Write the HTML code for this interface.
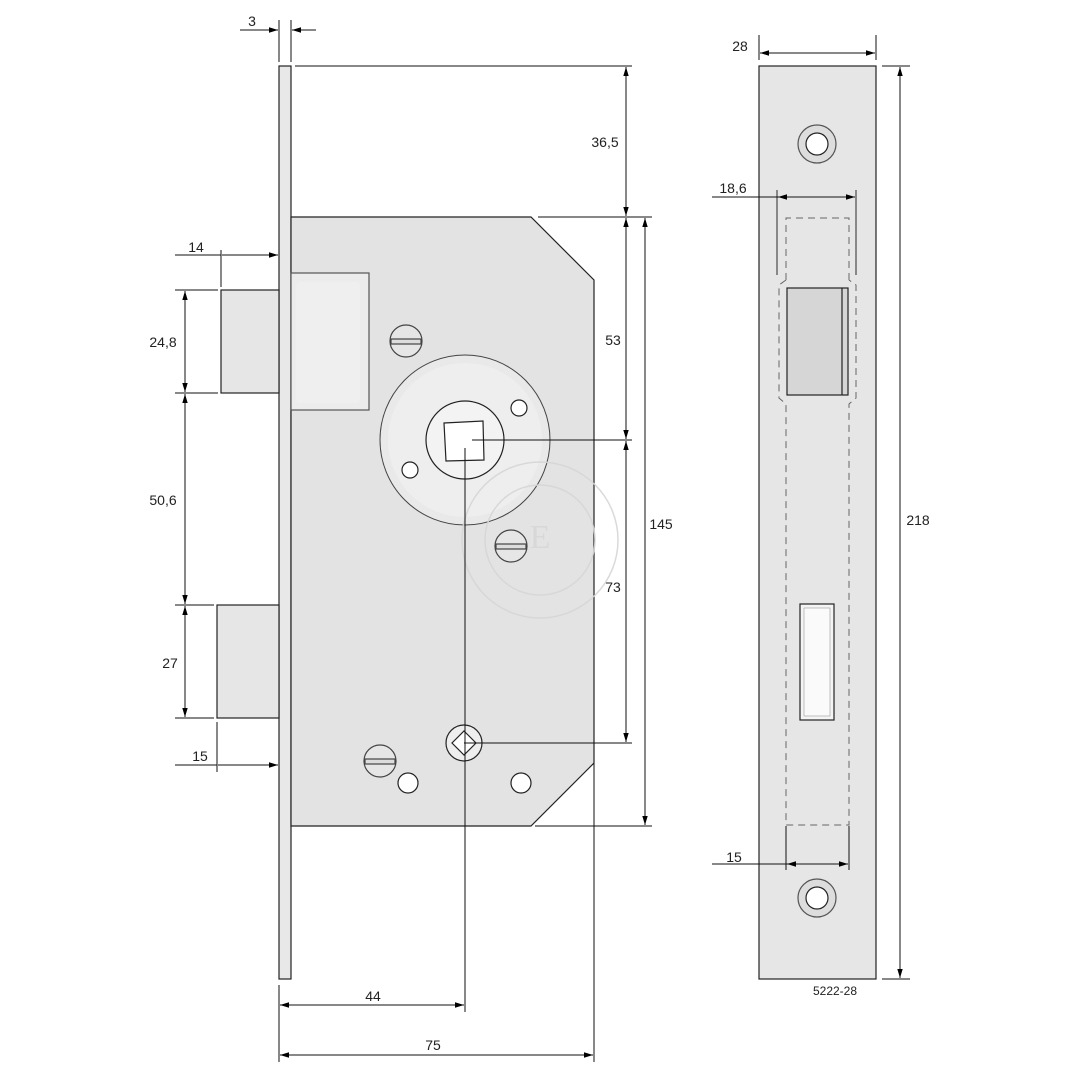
<!DOCTYPE html>
<html><head><style>body{margin:0;background:#fff}svg{display:block}text{font-family:"Liberation Sans",sans-serif;font-size:14px;fill:#222}</style></head><body>
<svg width="1080" height="1080" viewBox="0 0 1080 1080" xmlns="http://www.w3.org/2000/svg">
<defs>
<marker id="a" viewBox="0 0 10 10" refX="10" refY="5" markerWidth="9" markerHeight="9" orient="auto-start-reverse"><path d="M0,2 L10,5 L0,8 z" fill="#000"/></marker>
</defs>
<g stroke="#222" stroke-width="1.2">
<rect x="279" y="66" width="12" height="913" fill="#e8e8e8"/>
<polygon points="291,217 531,217 594,280 594,763 531,826 291,826" fill="#e3e3e3"/>
<rect x="291" y="273" width="78" height="137" fill="#ececec" stroke="#555"/>
<rect x="296" y="282" width="64" height="121" fill="#efefef" stroke="none" rx="4"/>
<rect x="221" y="290" width="58" height="103" fill="#e6e6e6"/>
<rect x="217" y="605" width="62" height="113" fill="#e6e6e6"/>
<circle cx="465" cy="440" r="85" fill="#e9e9e9" stroke="#444" stroke-width="1"/>
<circle cx="465" cy="440" r="77" fill="#eeeeee" stroke="none"/>
<circle cx="465" cy="440" r="39" fill="#f3f3f3"/>
<polygon points="444,423 483,421 484,460 446,461" fill="#fff"/>
<circle cx="519" cy="408" r="8" fill="#fff"/>
<circle cx="410" cy="470" r="8" fill="#fff"/>
<g fill="#e6e6e6" stroke="#444">
<circle cx="406" cy="341" r="16"/><rect x="391" y="339" width="30" height="5" fill="#ddd"/>
<circle cx="511" cy="546" r="16"/><rect x="496" y="544" width="30" height="5" fill="#ddd"/>
<circle cx="380" cy="761" r="16"/><rect x="365" y="759" width="30" height="5" fill="#ddd"/>
</g>
<circle cx="408" cy="783" r="10" fill="#fff"/>
<circle cx="521" cy="783" r="10" fill="#fff"/>
<circle cx="464" cy="743" r="18" fill="#eee"/>
<polygon points="464,731 476,743 464,755 452,743" fill="#fff"/>
</g>
<g fill="none" stroke="#d6d6d6" stroke-width="1.5" opacity="0.9">
<circle cx="540" cy="540" r="78"/><circle cx="540" cy="540" r="55"/>
</g>
<text x="540" y="548" text-anchor="middle" style="fill:#d8d8d8;font-family:'Liberation Serif',serif;font-size:34px">E</text>
<!-- right faceplate -->
<g stroke="#222" stroke-width="1.2">
<rect x="759" y="66" width="117" height="913" fill="#e6e6e6"/>
<circle cx="817" cy="144" r="19" fill="#ddd" stroke="#555"/><circle cx="817" cy="144" r="11" fill="#fff"/>
<circle cx="817" cy="898" r="19" fill="#ddd" stroke="#555"/><circle cx="817" cy="898" r="11" fill="#fff"/>
<rect x="787" y="288" width="61" height="107" fill="#d6d6d6"/>
<line x1="842" y1="288" x2="842" y2="395"/>
<rect x="800" y="604" width="34" height="116" fill="#f4f4f4"/>
<rect x="804" y="608" width="26" height="108" fill="#fafafa" stroke="#999" stroke-width="0.6"/>
</g>
<g stroke="#555" stroke-width="1.3" fill="none">
<line x1="777" y1="190" x2="777" y2="275"/>
<line x1="856" y1="190" x2="856" y2="275"/>
</g>
<path d="M786,280 V218 H849 V280 M786,280 L779,285 V398 L786,404 V825 H849 V404 L856,398 V285 L849,280" fill="none" stroke="#666" stroke-width="1" stroke-dasharray="7,5"/>
<g stroke="#111" stroke-width="1" fill="none">
<line x1="472" y1="440" x2="632" y2="440"/>
<line x1="465" y1="448" x2="465" y2="1012"/>
<line x1="464" y1="743" x2="632" y2="743"/>
<line x1="594" y1="763" x2="594" y2="1062"/>
<line x1="279" y1="985" x2="279" y2="1062"/>
<line x1="295" y1="66" x2="632" y2="66"/>
<line x1="538" y1="217" x2="652" y2="217"/>
<line x1="535" y1="826" x2="652" y2="826"/>
<line x1="279" y1="20" x2="279" y2="62"/>
<line x1="291" y1="20" x2="291" y2="62"/>
<line x1="175" y1="290" x2="218" y2="290"/>
<line x1="175" y1="393" x2="218" y2="393"/>
<line x1="175" y1="605" x2="214" y2="605"/>
<line x1="175" y1="718" x2="214" y2="718"/>
<line x1="221" y1="250" x2="221" y2="287"/>
<line x1="217" y1="722" x2="217" y2="772"/>
<line x1="786" y1="826" x2="786" y2="870"/>
<line x1="849" y1="826" x2="849" y2="870"/>
<line x1="759" y1="35" x2="759" y2="60"/>
<line x1="876" y1="35" x2="876" y2="60"/>
<line x1="882" y1="66" x2="910" y2="66"/>
<line x1="882" y1="979" x2="910" y2="979"/>
<g marker-end="url(#a)" marker-start="url(#a)">
<line x1="626" y1="67" x2="626" y2="216"/>
<line x1="626" y1="218" x2="626" y2="439"/>
<line x1="626" y1="441" x2="626" y2="742"/>
<line x1="645" y1="218" x2="645" y2="825"/>
<line x1="185" y1="291" x2="185" y2="392"/>
<line x1="185" y1="394" x2="185" y2="604"/>
<line x1="185" y1="606" x2="185" y2="717"/>
<line x1="280" y1="1005" x2="464" y2="1005"/>
<line x1="280" y1="1055" x2="593" y2="1055"/>
<line x1="760" y1="53" x2="875" y2="53"/>
<line x1="900" y1="67" x2="900" y2="978"/>
<line x1="778" y1="197" x2="855" y2="197"/>
<line x1="787" y1="864" x2="848" y2="864"/>
</g>
<line x1="175" y1="255" x2="221" y2="255"/>
<line x1="222" y1="255" x2="278" y2="255" marker-end="url(#a)"/>
<line x1="175" y1="765" x2="217" y2="765"/>
<line x1="218" y1="765" x2="278" y2="765" marker-end="url(#a)"/>
<line x1="240" y1="30" x2="278" y2="30" marker-end="url(#a)"/>
<line x1="316" y1="30" x2="292" y2="30" marker-end="url(#a)"/>
<line x1="712" y1="197" x2="778" y2="197"/>
<line x1="712" y1="864" x2="787" y2="864"/>
</g>
<text x="252" y="26" text-anchor="middle">3</text>
<text x="605" y="147" text-anchor="middle">36,5</text>
<text x="613" y="345" text-anchor="middle">53</text>
<text x="613" y="592" text-anchor="middle">73</text>
<text x="661" y="529" text-anchor="middle">145</text>
<text x="196" y="252" text-anchor="middle">14</text>
<text x="163" y="347" text-anchor="middle">24,8</text>
<text x="163" y="505" text-anchor="middle">50,6</text>
<text x="170" y="668" text-anchor="middle">27</text>
<text x="200" y="761" text-anchor="middle">15</text>
<text x="373" y="1001" text-anchor="middle">44</text>
<text x="433" y="1050" text-anchor="middle">75</text>
<text x="740" y="51" text-anchor="middle">28</text>
<text x="733" y="193" text-anchor="middle">18,6</text>
<text x="734" y="862" text-anchor="middle">15</text>
<text x="918" y="525" text-anchor="middle">218</text>
<text x="835" y="995" text-anchor="middle" style="font-size:12px">5222-28</text>
</svg>
</body></html>
